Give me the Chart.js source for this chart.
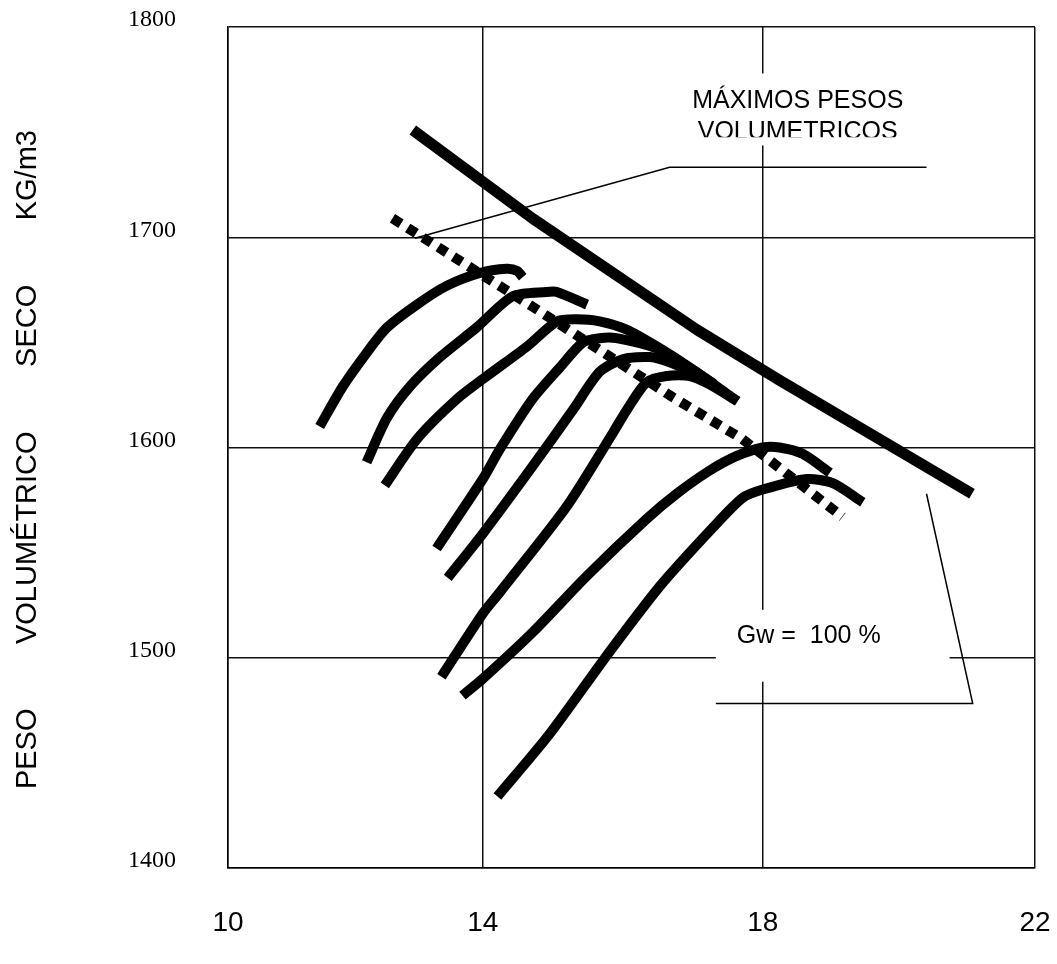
<!DOCTYPE html>
<html>
<head>
<meta charset="utf-8">
<title>Curvas de compactación</title>
<script src="https://cdn.jsdelivr.net/npm/chart.js@4.4.1/dist/chart.umd.min.js"></script>
<style>
  html, body { margin: 0; padding: 0; background: #fff; }
  #grafico { display: block; }
</style>
</head>
<body>
<canvas id="grafico" width="1057" height="964"></canvas>
<script>
// humedad (%) y peso volumétrico seco (kg/m3) de cada curva
const humedadA = [11.67, 12.0, 12.34, 12.63, 13.06, 13.49, 13.96, 14.34, 14.49, 14.57];
const pesoA    = [1610, 1629, 1645, 1657, 1668, 1677, 1683, 1685, 1684, 1681];

const humedadB = [12.34, 12.63, 12.96, 13.39, 13.91, 14.43, 14.91, 15.06, 15.49];
const pesoB    = [1593, 1614, 1629, 1643, 1657, 1672, 1674, 1674, 1668];

const humedadC = [12.6, 13.06, 13.63, 14.06, 14.63, 15.06, 15.34, 15.67, 16.06, 16.49, 16.96, 17.64];
const pesoC    = [1582, 1604, 1623, 1634, 1648, 1660, 1661, 1660, 1656, 1648, 1638, 1622];

const humedadD = [13.34, 14.0, 14.24, 14.71, 15.1, 15.43, 15.67, 15.91, 16.49, 17.0, 17.31];
const pesoD    = [1552, 1585, 1599, 1623, 1638, 1650, 1652, 1652, 1647, 1637, 1630];

const humedadE = [13.5, 14.0, 14.71, 15.29, 15.67, 16.0, 16.39, 16.71, 17.03, 17.46];
const pesoE    = [1538, 1559, 1591, 1618, 1636, 1642, 1643, 1640, 1635, 1626];

const humedadF = [13.41, 14.0, 14.24, 15.2, 15.86, 16.06, 16.34, 16.63, 16.96, 17.24, 17.64];
const pesoF    = [1491, 1521, 1531, 1572, 1607, 1618, 1631, 1634, 1634, 1630, 1622];

const humedadG = [13.71, 14.0, 14.71, 15.49, 16.34, 16.77, 17.24, 17.63, 18.0, 18.24, 18.57, 18.96];
const pesoG    = [1482, 1490, 1512, 1539, 1566, 1578, 1589, 1596, 1600, 1600, 1597, 1588];

const humedadH = [14.21, 14.96, 15.77, 16.53, 17.29, 17.71, 18.0, 18.63, 19.0, 19.43];
const pesoH    = [1434, 1464, 1501, 1534, 1562, 1576, 1580, 1585, 1583, 1574];

// línea de máximos pesos volumétricos
const humedadMax = [13.0, 14.71, 17.06, 18.24, 20.99];
const pesoMax    = [1751, 1709, 1656, 1632, 1578];

// línea de óptimos (punteada)
const humedadOpt = [12.71, 14.71, 16.71, 17.71, 19.14];
const pesoOpt    = [1709, 1667, 1624, 1604, 1567];

// ejes
const xTickValues = [10.36, 14, 18, 21.89];
const xTickLabels = ['10', '14', '18', '22'];
const yTickValues = [1400, 1500, 1600, 1700, 1800];
const yTickLabels = ['1400', '1500', '1600', '1700', '1800'];

const SANS = '"Liberation Sans", Arial, Helvetica, sans-serif';
const SERIF = '"Liberation Serif", "Times New Roman", serif';

function puntos(xs, ys) {
    return xs.map((x, i) => ({ x: x, y: ys[i] }));
}

function curva(xs, ys) {
    return {
        data: puntos(xs, ys),
        borderColor: '#000',
        borderWidth: 10,
        borderCapStyle: 'butt',
        borderJoinStyle: 'round',
        tension: 0.25,
        pointRadius: 0,
        showLine: true,
        fill: false
    };
}

// textos y líneas de referencia
const anotaciones = {
    id: 'anotaciones',
    afterDatasetsDraw(chart) {
        const { ctx, scales } = chart;
        const X = v => scales.x.getPixelForValue(v);
        const Y = v => scales.y.getPixelForValue(v);

        ctx.save();

        // fondos blancos de los cuadros de texto
        ctx.fillStyle = '#fff';
        ctx.fillRect(X(16.81), Y(1777.9), X(20.24) - X(16.81), Y(1743.7) - Y(1777.9));
        ctx.fillRect(X(17.33), Y(1522.8), X(20.67) - X(17.33), Y(1488.6) - Y(1522.8));

        // líneas guía
        ctx.strokeStyle = '#000';
        ctx.lineWidth = 1.5;
        ctx.beginPath();
        ctx.moveTo(X(13.03), Y(1699.5));
        ctx.lineTo(X(16.67), Y(1733.3));
        ctx.lineTo(X(20.34), Y(1733.3));
        ctx.moveTo(X(17.33), Y(1478.2));
        ctx.lineTo(X(21.0), Y(1478.2));
        ctx.lineTo(X(20.34), Y(1578));
        ctx.stroke();

        // textos
        ctx.fillStyle = '#000';
        ctx.font = '25px ' + SANS;
        ctx.textBaseline = 'alphabetic';
        ctx.textAlign = 'center';
        ctx.fillText('MÁXIMOS PESOS', X(18.5), Y(1761.3));
        ctx.save();
        ctx.beginPath();
        ctx.rect(X(16.81), Y(1777.9), X(20.24) - X(16.81), Y(1747.6) - Y(1777.9));
        ctx.clip();
        ctx.fillText('VOLUMETRICOS', X(18.5), Y(1761.3) + 31);
        ctx.restore();

        ctx.textAlign = 'left';
        ctx.fillText('Gw =  100 %', X(17.63), Y(1507));

        ctx.restore();
    }
};

const datasets = [
    curva(humedadA, pesoA),
    curva(humedadB, pesoB),
    curva(humedadC, pesoC),
    curva(humedadD, pesoD),
    curva(humedadE, pesoE),
    curva(humedadF, pesoF),
    curva(humedadG, pesoG),
    curva(humedadH, pesoH),
    Object.assign(curva(humedadMax, pesoMax), { borderWidth: 11, tension: 0 }),
    Object.assign(curva(humedadOpt, pesoOpt), { borderDash: [10, 8], tension: 0 })
];

new Chart(document.getElementById('grafico'), {
    type: 'scatter',
    data: { datasets: datasets },
    plugins: [anotaciones],
    options: {
        responsive: false,
        animation: false,
        devicePixelRatio: 1,
        layout: { padding: { top: 27, right: 22, left: 0, bottom: 0 } },
        plugins: {
            legend: { display: false },
            tooltip: { enabled: false }
        },
        scales: {
            x: {
                type: 'linear',
                min: xTickValues[0],
                max: xTickValues[xTickValues.length - 1],
                afterBuildTicks: s => { s.ticks = xTickValues.map(v => ({ value: v })); },
                afterFit: s => {
                    s.height = 96;
                    s.paddingLeft = 0;
                    s.paddingRight = 0;
                },
                grid: { color: '#111', lineWidth: 1.5, drawTicks: false },
                border: { color: '#000', width: 1.5 },
                ticks: {
                    color: '#000',
                    padding: 38,
                    maxRotation: 0,
                    autoSkip: false,
                    font: { family: SANS, size: 28 },
                    callback: (v, i) => xTickLabels[i]
                }
            },
            y: {
                type: 'linear',
                min: yTickValues[0],
                max: yTickValues[yTickValues.length - 1],
                afterBuildTicks: s => { s.ticks = yTickValues.map(v => ({ value: v })); },
                afterFit: s => {
                    s.width = 228;
                    s.paddingTop = 0;
                    s.paddingBottom = 0;
                },
                grid: { color: '#111', lineWidth: 1.5, drawTicks: false },
                border: { color: '#000', width: 1.5 },
                title: {
                    display: true,
                    text: 'PESO        VOLUMÉTRICO        SECO        KG/m3   ',
                    color: '#000',
                    font: { family: SANS, size: 29 },
                    padding: { top: 11, bottom: 0 }
                },
                ticks: {
                    color: '#000',
                    padding: 52,
                    labelOffset: -7,
                    autoSkip: false,
                    font: { family: SERIF, size: 24 },
                    callback: (v, i) => yTickLabels[i]
                }
            }
        }
    }
});
</script>
</body>
</html>
